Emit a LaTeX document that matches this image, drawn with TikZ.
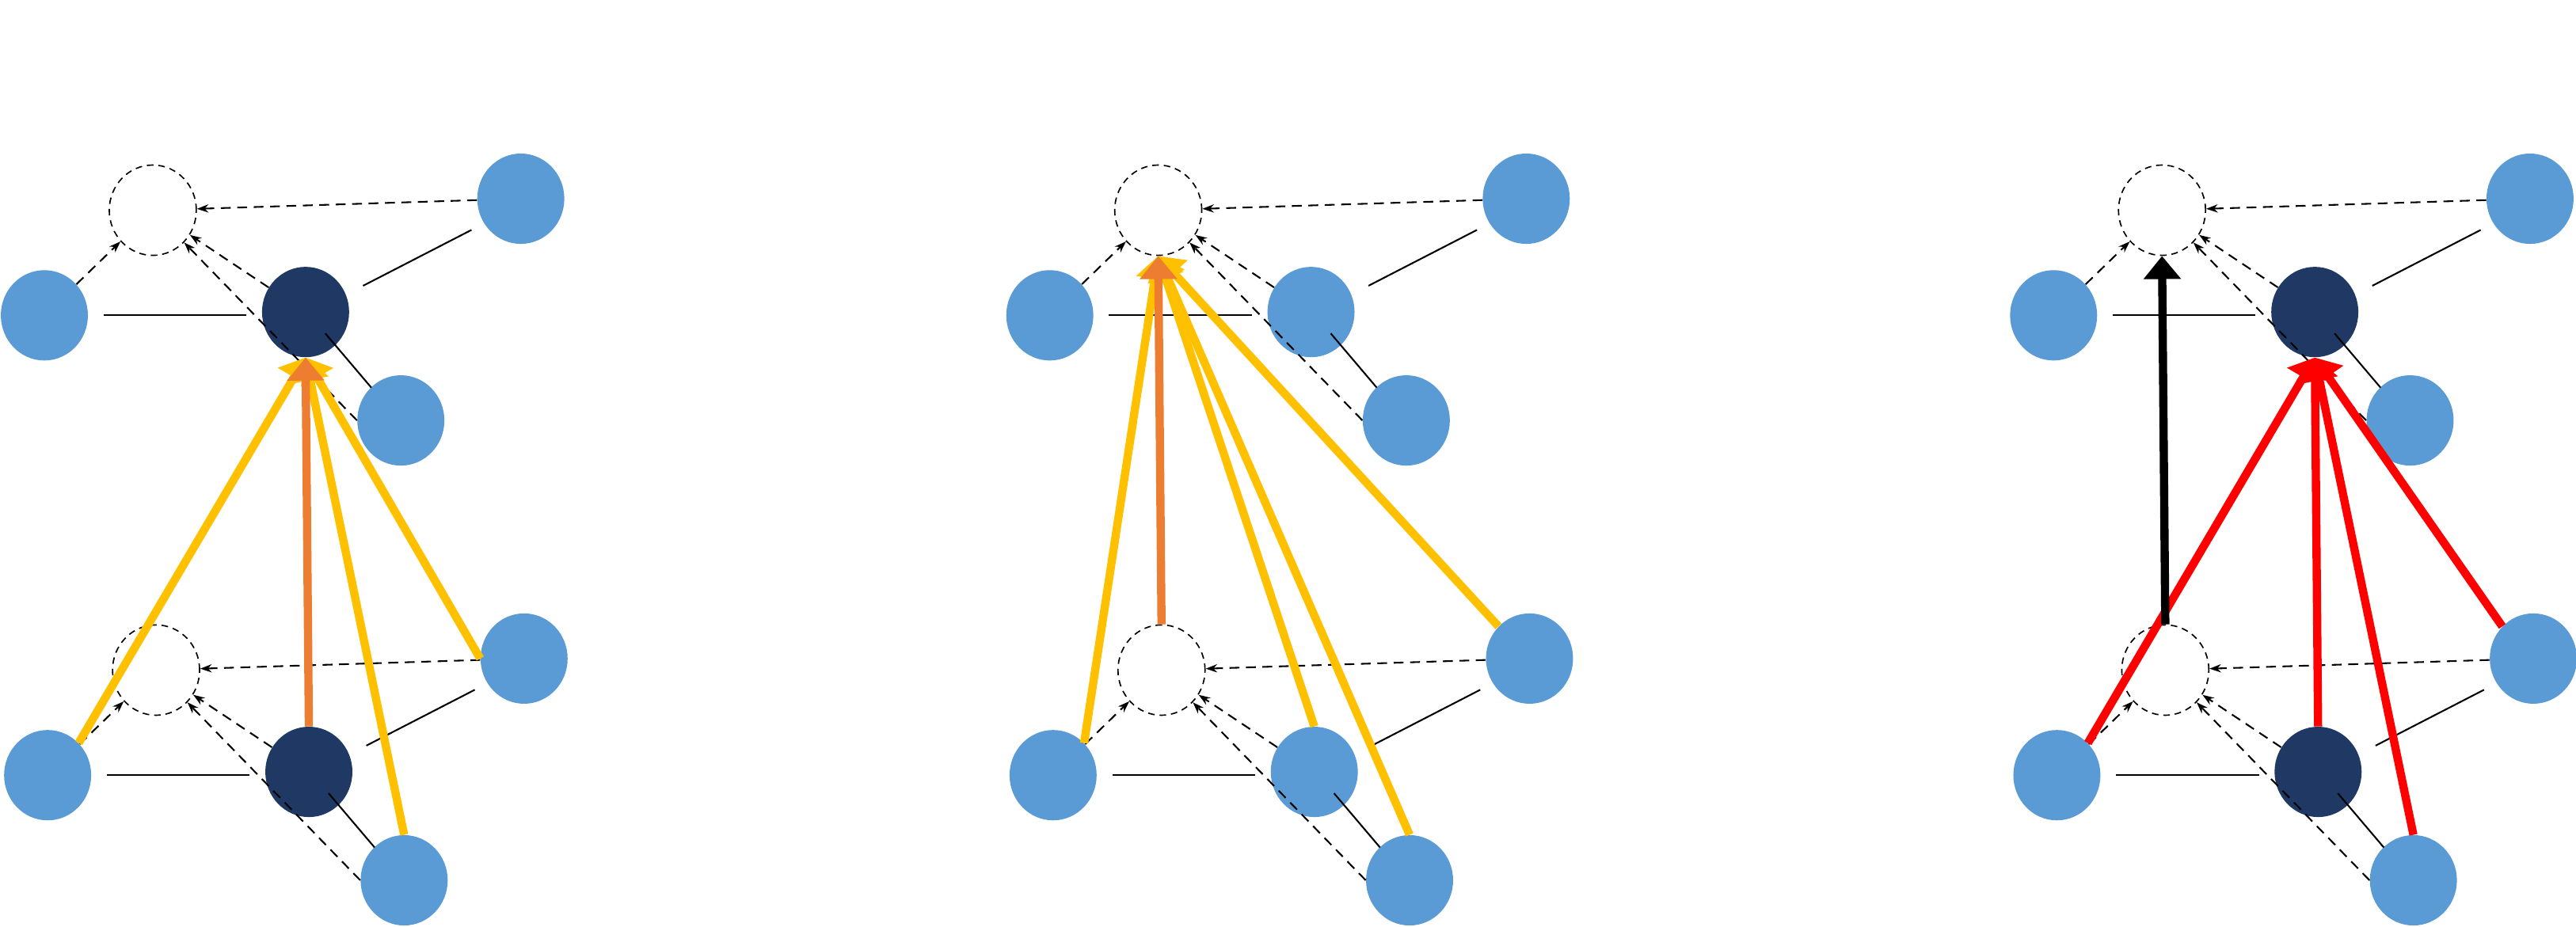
\documentclass[tikz,border=0pt]{standalone}
\usetikzlibrary{arrows.meta,shapes.geometric}
\definecolor{lb}{HTML}{5B9BD5}
\definecolor{db}{HTML}{203864}
\definecolor{yl}{HTML}{FFC000}
\definecolor{og}{HTML}{ED7D31}
\tikzset{
 nd/.style={ellipse,minimum width=53pt,minimum height=55pt,inner sep=0,fill=lb},
 dk/.style={nd,fill=db},
 gh/.style={ellipse,minimum width=53pt,minimum height=55pt,inner sep=0,draw,line width=0.8pt,dash pattern=on 4pt off 3pt},
 thin/.style={line width=1pt},
 dar/.style={line width=1pt,dash pattern=on 6pt off 4pt,-{Stealth[length=7pt,width=5pt]}},
 big/.style={line width=5pt,-{Triangle[length=14pt,width=22pt]}},
}
\begin{document}
\begin{tikzpicture}[x=1pt,y=-1pt]
\useasboundingbox (0,0) rectangle (1568,564);
\foreach \p/\ox/\dsty in {a/0/dk,b/612/nd,c/1223/dk}{
 \foreach \l/\oy/\dx in {t/0/0,b/280/2}{
  \begin{scope}[shift={(\ox+\dx,\oy)}]
   \node[gh] (\p\l G) at (93,128) {};
   \node[nd] (\p\l L) at (27,192) {};
   \node[\dsty] (\p\l D) at (186,190) {};
   \node[nd] (\p\l R) at (244,256) {};
   \node[nd] (\p\l S) at (317,121) {};
   \coordinate (\p\l a) at (63,192); \coordinate (\p\l b) at (150,192);
   \coordinate (\p\l c) at (198,203); \coordinate (\p\l d) at (226,236);
   \coordinate (\p\l e) at (221,174); \coordinate (\p\l f) at (287,140);
   \draw[thin] (\p\l a) -- (\p\l b);
   \draw[thin] (\p\l c) -- (\p\l d);
   \draw[thin] (\p\l e) -- (\p\l f);
   \draw[dar] (\p\l L) -- (\p\l G);
   \draw[dar] (\p\l D) -- (\p\l G);
   \draw[dar] (\p\l R.west) -- (\p\l G);
   \draw[dar] (\p\l S) -- (\p\l G);
  \end{scope}}}
% panel a
\draw[big,yl] (abL.north east) -- (atD.south);
\draw[big,yl] (abS.west) -- (atD.south);
\draw[big,yl] (abR.north) -- (atD.south);
\draw[big,og] (abD.north) -- (atD.south);
% panel b
\draw[big,yl] (bbL.north east) -- (btG.south);
\draw[big,yl] (bbS.north west) -- (btG.south);
\draw[big,yl] (bbR.north) -- (btG.south);
\draw[big,yl] (bbD.north) -- (btG.south);
\draw[big,og] (bbG.north) -- (btG.south);
% panel c
\draw[big,red] (cbL.north east) -- (ctD.south);
\draw[big,red] (cbD.north) -- (ctD.south);
\draw[big,red] (cbR.north) -- (ctD.south);
\draw[big,red] (cbS.north west) -- (ctD.south);
\draw[big,black] (cbG.north) -- (ctG.south);
\end{tikzpicture}
\end{document}
